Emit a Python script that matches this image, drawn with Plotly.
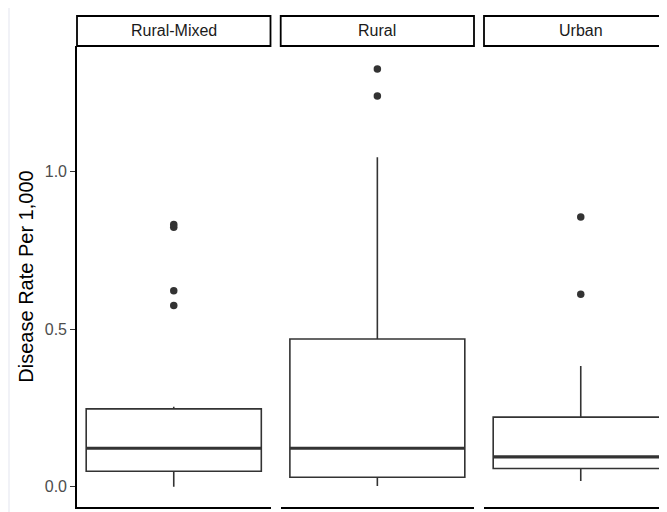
import plotly.graph_objects as go

# ---- data ----
facets = ["Rural-Mixed", "Rural", "Urban"]
q1_vals = [0.049, 0.030, 0.058]
median_vals = [0.122, 0.122, 0.095]
q3_vals = [0.247, 0.469, 0.221]
lower_whisker = [0.000, 0.002, 0.018]
upper_whisker = [0.254, 1.046, 0.383]
outliers = [[0.832, 0.824, 0.622, 0.575], [1.326, 1.240], [0.856, 0.611]]
y_tick_vals = [0.0, 0.5, 1.0]
y_tick_text = ["0.0", "0.5", "1.0"]
y_title = "Disease Rate Per 1,000"

# ---- layout geometry (page has an 8px body margin) ----
OFF = 8
W, H = 667 - OFF, 512 - OFF
ML, MR, MT, MB = 77 - OFF, 0, 46 - OFF, 5
PW = W - ML - MR
PH = H - MT - MB
panel_px = 193.5
x_px = lambda p: (p - OFF - ML) / PW
domains = [[0.0, 193.5 / PW], [x_px(280.7), x_px(474)], [x_px(484), 1.0]]
vis3 = (domains[2][1] - domains[2][0]) * PW / panel_px
x_ranges = [[-0.5, 0.5], [-0.5, 0.5], [-0.5, -0.5 + vis3]]
box_w = 0.905
FONT = "Liberation Sans, Arial, sans-serif"
DARK = "#333333"

fig = go.Figure()
for i, name in enumerate(facets):
    xa = "x" if i == 0 else f"x{i+1}"
    fig.add_trace(go.Box(
        x=[0], q1=[q1_vals[i]], median=[median_vals[i]], q3=[q3_vals[i]],
        lowerfence=[lower_whisker[i]], upperfence=[upper_whisker[i]],
        width=box_w, fillcolor="white", line=dict(color=DARK, width=1.6),
        boxpoints=False, whiskerwidth=0, xaxis=xa, yaxis="y", showlegend=False,
        hoverinfo="skip"))
    # thick median line (ggplot fatten)
    m = median_vals[i]
    fig.add_trace(go.Box(
        x=[0], q1=[m], median=[m], q3=[m], lowerfence=[m], upperfence=[m],
        width=box_w, fillcolor="rgba(0,0,0,0)", line=dict(color=DARK, width=3.2),
        boxpoints=False, whiskerwidth=0, xaxis=xa, yaxis="y", showlegend=False,
        hoverinfo="skip"))
    fig.add_trace(go.Scatter(
        x=[0] * len(outliers[i]), y=outliers[i], mode="markers",
        marker=dict(color=DARK, size=7.5), xaxis=xa, yaxis="y", showlegend=False,
        hoverinfo="skip"))

layout = dict(
    width=W, height=H,
    margin=dict(l=ML, r=MR, t=MT, b=MB, pad=0),
    paper_bgcolor="white", plot_bgcolor="white",
    font=dict(family=FONT, color="#1a1a1a"),
    boxmode="overlay",
    yaxis=dict(
        domain=[0, 1], range=[-20.3 / 315, (PH - 20.3) / 315],
        tickvals=y_tick_vals, ticktext=y_tick_text,
        ticks="outside", ticklen=5, tickwidth=1.4, tickcolor=DARK,
        tickfont=dict(size=16, color="#4d4d4d", family=FONT),
        showline=True, linecolor="black", linewidth=1.6,
        showgrid=False, zeroline=False, anchor="x",
        title=dict(text=y_title, font=dict(size=20, color="black", family=FONT), standoff=6),
    ),
)
for i in range(3):
    key = "xaxis" if i == 0 else f"xaxis{i+1}"
    layout[key] = dict(
        domain=domains[i], range=x_ranges[i], anchor="y",
        showline=True, linecolor="black", linewidth=1.6,
        showticklabels=False, ticks="", showgrid=False, zeroline=False,
        fixedrange=True)
fig.update_layout(**layout)

shapes = []
# thin light-grey band at the far left (rest of outer border is page margin)
shapes.append(dict(type="rect", xref="paper", yref="paper", layer="below",
                   x0=-ML / PW, x1=(10 - OFF - ML) / PW, y0=-MB / PH, y1=(H - MB) / PH,
                   fillcolor="#f1f2f7", line=dict(width=0)))
annotations = []
strip_top = 1 + 30 / PH
for i, name in enumerate(facets):
    ax = "x" if i == 0 else f"x{i+1}"
    x1 = 1.0 if i < 2 else 1.0 / vis3
    shapes.append(dict(type="rect", xref=f"{ax} domain", yref="y domain",
                       x0=0, x1=x1, y0=1.0, y1=strip_top,
                       fillcolor="white", line=dict(color="black", width=1.8)))
    annotations.append(dict(text=name, xref=ax, x=0, yref="y domain",
                            y=1 + 15 / PH, yanchor="middle", xanchor="center",
                            showarrow=False,
                            font=dict(size=16, color="#1a1a1a", family=FONT)))
fig.update_layout(shapes=shapes, annotations=annotations)

fig.write_html("out.html")
